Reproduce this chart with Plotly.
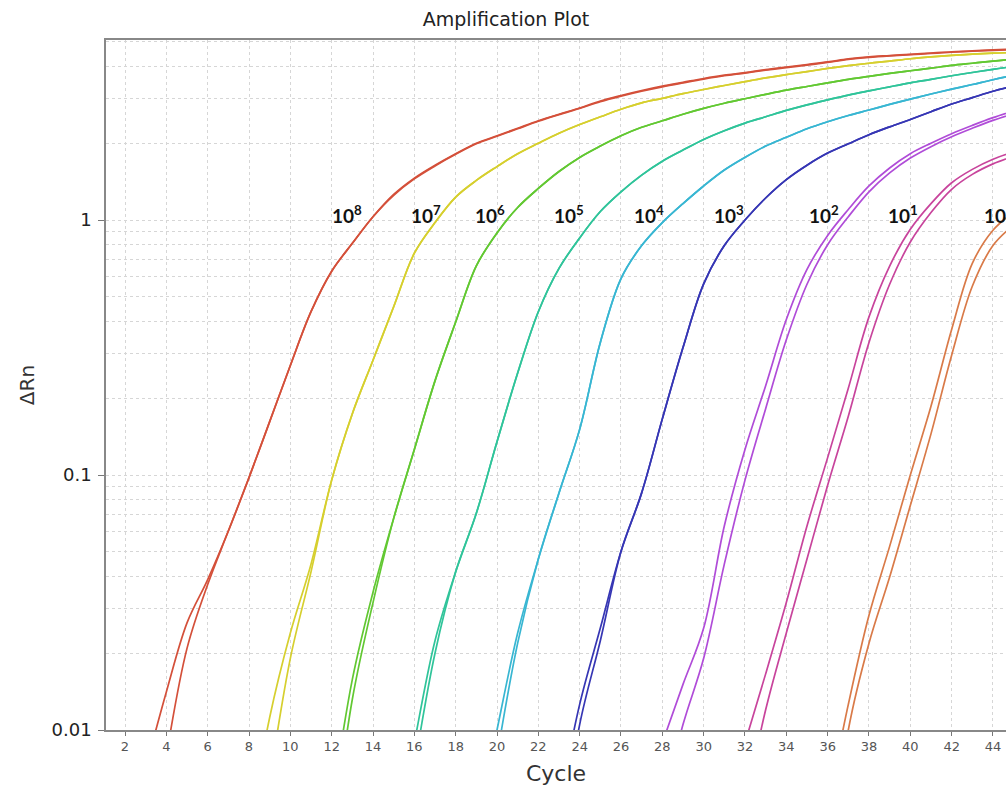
import plotly.graph_objects as go

# ---------------- data ----------------
dilutions = ["10^8", "10^7", "10^6", "10^5", "10^4", "10^3", "10^2", "10^1", "10^0"]

# first cycle of each series (values listed per cycle from there up to cycle 45)
start_A = [3, 8, 12, 15, 19, 23, 28, 32, 36]
start_B = [4, 9, 12, 16, 20, 23, 28, 32, 36]

rep_A = [
    # 10^8
    [0.00708, 0.0141, 0.0263, 0.0389, 0.0603, 0.0977, 0.162, 0.269, 0.437, 0.63, 0.81, 1.03, 1.26,
     1.46, 1.64, 1.82, 2.0, 2.14, 2.29, 2.45, 2.6, 2.75, 2.93, 3.08, 3.22, 3.35, 3.467,
     3.589, 3.698, 3.784, 3.89, 3.981, 4.074, 4.169, 4.285, 4.365, 4.416, 4.467, 4.519, 4.571, 4.603,
     4.645, 4.677],
    # 10^7
    [0.00398, 0.0112, 0.024, 0.0447, 0.0955, 0.174, 0.282, 0.457, 0.741, 0.977, 1.23, 1.43, 1.62,
     1.82, 2.0, 2.19, 2.37, 2.54, 2.72, 2.88, 3.0, 3.13, 3.25, 3.37, 3.49, 3.61, 3.72,
     3.82, 3.93, 4.03, 4.12, 4.2, 4.29, 4.36, 4.42, 4.47, 4.51, 4.54],
    # 10^6
    [0.005, 0.0158, 0.0347, 0.0676, 0.126, 0.234, 0.398, 0.661, 0.89, 1.12, 1.33, 1.55, 1.76,
     1.95, 2.14, 2.31, 2.45, 2.6, 2.74, 2.87, 2.99, 3.11, 3.23, 3.34, 3.45, 3.56, 3.66,
     3.76, 3.85, 3.94, 4.04, 4.12, 4.2, 4.27],
    # 10^5
    [0.0032, 0.0089, 0.0224, 0.0417, 0.0708, 0.135, 0.251, 0.437, 0.646, 0.851, 1.08, 1.29, 1.5,
     1.7, 1.88, 2.07, 2.24, 2.4, 2.54, 2.69, 2.83, 2.96, 3.09, 3.21, 3.33, 3.45,
     3.56, 3.68, 3.79, 3.90, 4.0],
    # 10^4
    [0.004, 0.01, 0.024, 0.0468, 0.085, 0.151, 0.331, 0.589, 0.794, 0.977, 1.16, 1.36, 1.57, 1.76,
     1.95, 2.11, 2.28, 2.43, 2.57, 2.7, 2.84, 2.98, 3.12, 3.26, 3.4, 3.55, 3.69],
    # 10^3
    [0.005, 0.0126, 0.0251, 0.0501, 0.0851, 0.166, 0.316, 0.562, 0.794, 1.0, 1.22, 1.44, 1.64,
     1.83, 1.99, 2.16, 2.32, 2.48, 2.66, 2.85, 3.02, 3.2, 3.35],
    # 10^2
    [0.0089, 0.0151, 0.0251, 0.0631, 0.126, 0.224, 0.407, 0.64, 0.87, 1.1, 1.36, 1.6, 1.82,
     2.0, 2.18, 2.35, 2.52, 2.68],
    # 10^1
    [0.0089, 0.0166, 0.0316, 0.0631, 0.117, 0.219, 0.417, 0.66, 0.92, 1.16, 1.4, 1.58, 1.73,
     1.85],
    # 10^0
    [0.005, 0.0126, 0.0282, 0.0525, 0.1, 0.186, 0.372, 0.676, 0.912, 1.072],
]

rep_B = [
    # 10^8
    [0.0079, 0.0209, 0.0372, 0.0603, 0.0977, 0.162, 0.269, 0.437, 0.63, 0.81, 1.03, 1.25,
     1.45, 1.63, 1.81, 1.99, 2.13, 2.28, 2.44, 2.59, 2.74, 2.91, 3.06, 3.2, 3.33, 3.45,
     3.57, 3.68, 3.77, 3.87, 3.96, 4.05, 4.15, 4.26, 4.34, 4.4, 4.45, 4.5, 4.55, 4.59, 4.63,
     4.66],
    # 10^7
    [0.0063, 0.0191, 0.0417, 0.0955, 0.174, 0.282, 0.457, 0.741, 0.977, 1.23, 1.43, 1.62,
     1.82, 2.0, 2.19, 2.37, 2.54, 2.72, 2.88, 3.0, 3.13, 3.25, 3.37, 3.49, 3.61, 3.72,
     3.82, 3.93, 4.03, 4.12, 4.2, 4.29, 4.36, 4.42, 4.47, 4.51, 4.54],
    # 10^6
    [0.0035, 0.0132, 0.0316, 0.0676, 0.126, 0.234, 0.398, 0.661, 0.89, 1.12, 1.33, 1.55, 1.76,
     1.95, 2.14, 2.31, 2.45, 2.6, 2.74, 2.87, 2.99, 3.11, 3.23, 3.34, 3.45, 3.56, 3.66,
     3.76, 3.85, 3.94, 4.04, 4.12, 4.2, 4.27],
    # 10^5
    [0.0071, 0.02, 0.0417, 0.0708, 0.135, 0.251, 0.437, 0.646, 0.851, 1.08, 1.29, 1.5,
     1.7, 1.88, 2.07, 2.24, 2.4, 2.54, 2.69, 2.83, 2.96, 3.09, 3.21, 3.33, 3.45,
     3.56, 3.68, 3.79, 3.90, 4.0],
    # 10^4
    [0.0079, 0.0219, 0.0468, 0.085, 0.151, 0.331, 0.589, 0.794, 0.977, 1.16, 1.36, 1.57, 1.76,
     1.95, 2.11, 2.28, 2.43, 2.57, 2.7, 2.84, 2.98, 3.12, 3.26, 3.4, 3.55, 3.69],
    # 10^3
    [0.0032, 0.0105, 0.0224, 0.0501, 0.0851, 0.166, 0.316, 0.562, 0.794, 1.0, 1.22, 1.44, 1.64,
     1.83, 1.99, 2.16, 2.32, 2.48, 2.66, 2.85, 3.02, 3.2, 3.35],
    # 10^2
    [0.005, 0.0105, 0.0191, 0.0447, 0.0955, 0.182, 0.339, 0.56, 0.8, 1.03, 1.29, 1.53, 1.75,
     1.94, 2.12, 2.29, 2.46, 2.61],
    # 10^1
    [0.005, 0.012, 0.024, 0.0468, 0.0912, 0.17, 0.331, 0.56, 0.82, 1.07, 1.32, 1.51, 1.66,
     1.78],
    # 10^0
    [0.0025, 0.01, 0.0219, 0.0398, 0.0759, 0.145, 0.295, 0.55, 0.794, 0.955],
]

label_exponents = ["8", "7", "6", "5", "4", "3", "2", "1", "0"]
label_cycles = [12.74, 16.56, 19.66, 23.48, 27.35, 31.23, 35.82, 39.65, 44.3]

y_tick_vals = [0.01, 0.1, 1]
y_tick_text = ["0.01", "0.1", "1"]
y_minor_vals = [m * d for d in (0.01, 0.1, 1) for m in range(2, 10)]

colors = ["#d4503a", "#d6cf2e", "#62c832", "#30c49a", "#38b6d2",
          "#3636b4", "#b04cd8", "#c8449c", "#d97a48"]

# ---------------- figure ----------------
fig = go.Figure()
for i, name in enumerate(dilutions):
    for start, vals in ((start_A[i], rep_A[i]), (start_B[i], rep_B[i])):
        xs = list(range(start, start + len(vals)))
        fig.add_trace(go.Scatter(
            x=xs, y=vals, mode="lines", name=name, showlegend=False,
            line=dict(color=colors[i], width=1.7, shape="spline", smoothing=1.0),
            hoverinfo="skip"))

for exp, cx in zip(label_exponents, label_cycles):
    fig.add_annotation(
        x=cx, y=0, xref="x", yref="y",
        text="<b>10<sup>" + exp + "</sup></b>", showarrow=False,
        font=dict(family="Lato, Liberation Sans, sans-serif", size=19, color="#111"),
        yshift=6, xanchor="center", yanchor="middle")

grid_color = "#d6d6d6"
fig.update_layout(
    width=1006, height=787,
    margin=dict(l=106, r=0, t=40, b=57),
    paper_bgcolor="white", plot_bgcolor="white",
    title=dict(text="Amplification Plot", x=0.503, xref="container", y=1 - 19 / 787,
               yref="container", xanchor="center", yanchor="middle",
               font=dict(family="DejaVu Sans, sans-serif", size=19, color="#222")),
    font=dict(family="DejaVu Sans, sans-serif", color="#333"),
)
fig.update_xaxes(
    range=[1.08, 44.63], tick0=0, dtick=2, ticks="outside", ticklen=4, tickcolor="#777",
    tickfont=dict(size=13, color="#555"),
    showgrid=True, gridcolor=grid_color, griddash="3px,3px", gridwidth=1,
    showline=True, linecolor="#888", linewidth=1.5, mirror=True, zeroline=False,
    title=dict(text="Cycle", font=dict(size=22, color="#333"), standoff=12),
)
fig.update_yaxes(
    type="log", range=[-2, 0.706],
    tickmode="array", tickvals=y_tick_vals, ticktext=y_tick_text,
    ticks="outside", ticklen=6, tickcolor="#777",
    tickfont=dict(size=18, color="#222"), ticklabelstandoff=3,
    showgrid=True, gridcolor=grid_color, griddash="3px,3px", gridwidth=1,
    minor=dict(tickmode="array", tickvals=y_minor_vals, ticks="", showgrid=True,
               gridcolor=grid_color, griddash="3px,3px", gridwidth=1),
    showline=True, linecolor="#888", linewidth=1.5, mirror=False, zeroline=False,
    title=dict(text="ΔRn", font=dict(size=20, color="#333"), standoff=12),
)

fig.write_html("out.html", config={"displayModeBar": False},
               post_script="document.body.style.margin='0px';document.body.style.overflow='hidden';")
